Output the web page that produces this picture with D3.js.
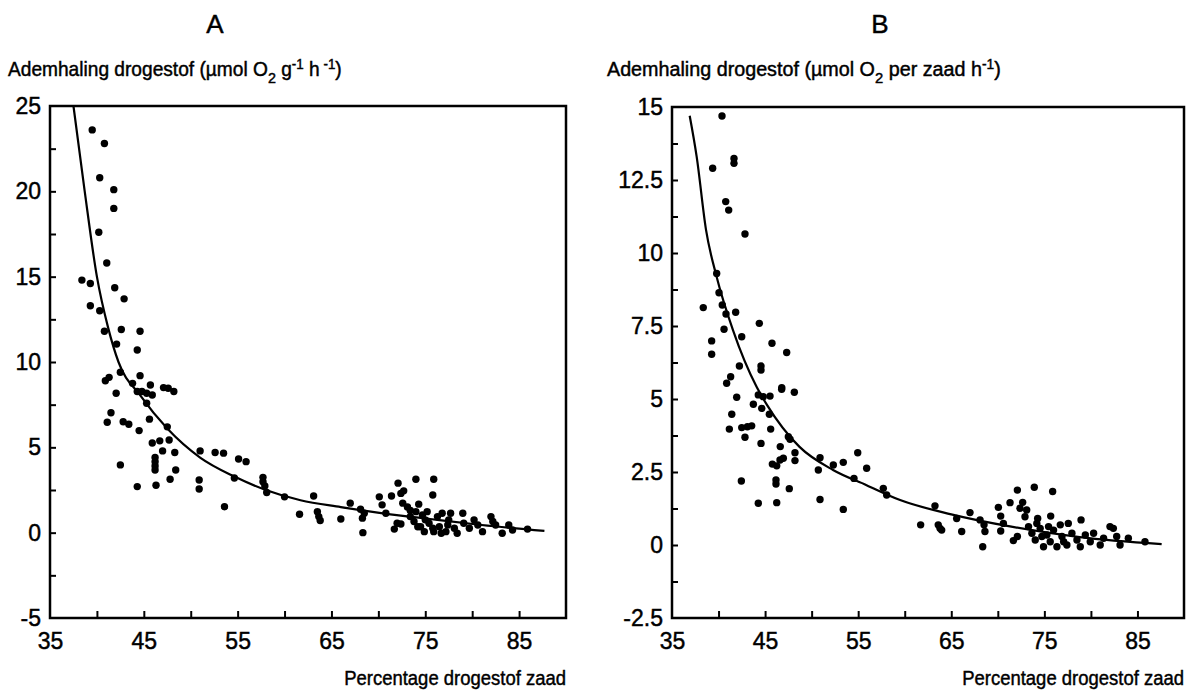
<!DOCTYPE html>
<html>
<head>
<meta charset="utf-8">
<script src="https://cdn.jsdelivr.net/npm/d3@7"></script>
<style>
  body { margin: 0; background: #fff; }
  svg { display: block; }
  text { font-family: "Liberation Sans", Arial, sans-serif; fill: #000; stroke: #000; stroke-width: 0.45px; }
</style>
</head>
<body>
<div id="chart"></div>
<script>
var width = 1204, height = 696;

// shared x axis
var xDomain = [35, 90];
var xTicks = [40, 45, 50, 55, 60, 65, 70, 75, 80, 85];
var xTickLabels = [35, 45, 55, 65, 75, 85];
var xTitle = "Percentage drogestof zaad";

// panel A: per gram
var aYDomain = [-5, 25];
var aYTicks = [-2.5, 0, 2.5, 5, 7.5, 10, 12.5, 15, 17.5, 20, 22.5];
var aYTickLabels = [-5, 0, 5, 10, 15, 20, 25];
var aCurve = [[37.5, 25], [38.7, 20], [40.0, 15], [41.2, 12], [42.3, 10], [44.6, 8.06], [47.5, 6.1],
  [51, 4.4], [54.6, 3.3], [58, 2.5], [61.7, 1.9], [66, 1.5], [70.3, 1.15], [75.5, 0.8], [81, 0.45], [87.7, 0.1]];
var aPoints = [
  [39.5, 23.6], [40.8, 22.8], [40.3, 20.8], [41.8, 20.1], [41.8, 19.0], [40.2, 17.6], [41.05, 15.8],
  [38.4, 14.8], [39.3, 14.6], [41.9, 14.35], [42.9, 13.7], [39.3, 13.3], [40.3, 13.0], [40.8, 11.8],
  [42.6, 11.9], [44.6, 11.8], [42.1, 11.05], [44.3, 10.7], [42.5, 9.4], [44.6, 9.2], [40.9, 8.9],
  [41.3, 9.1], [43.8, 8.75], [45.7, 8.65], [47.1, 8.5], [47.6, 8.46], [48.2, 8.27], [42.05, 8.17],
  [44.3, 8.27], [44.8, 8.27], [45.3, 8.17], [45.9, 8.07], [45.3, 7.58], [41.5, 7.03], [41.1, 6.47],
  [42.8, 6.5], [43.4, 6.35], [45.6, 6.65], [47.5, 6.2], [44.5, 5.98], [45.9, 5.25], [46.7, 5.38],
  [47.7, 5.43], [47.0, 4.79], [48.3, 4.7], [51.0, 4.79], [52.6, 4.7], [53.5, 4.66], [55.1, 4.32],
  [55.9, 4.16], [46.2, 4.4], [46.2, 4.16], [46.2, 3.91], [46.2, 3.67], [42.5, 3.97], [48.4, 3.67],
  [47.8, 3.13], [50.9, 3.09], [50.9, 2.56], [54.65, 3.2], [57.7, 3.24], [57.7, 2.99], [57.9, 2.74],
  [44.3, 2.7], [46.3, 2.78], [58.1, 2.35], [60.0, 2.1], [53.6, 1.52], [61.6, 1.08],
  [63.1, 2.15], [63.5, 1.23], [63.65, 0.94], [63.8, 0.71], [66.0, 0.8], [67.0, 1.73], [68.1, 1.37],
  [68.5, 1.14], [68.3, 0.85], [68.35, 0.0], [70.1, 2.1], [70.4, 1.63], [70.8, 1.14], [71.4, 2.15],
  [72.1, 2.9], [72.4, 2.3], [72.7, 2.45], [74.0, 3.13], [75.9, 3.13], [75.8, 2.21], [74.3, 1.67],
  [72.6, 1.73], [73.1, 1.5], [73.4, 1.3], [72.0, 0.55], [71.7, 0.21], [72.4, 0.51],
  [73.4, 0.94], [73.8, 0.65], [74.2, 0.35], [74.7, 1.04], [74.9, 0.06], [75.2, 1.23], [75.4, 0.55],
  [75.9, 0.06], [76.3, 0.94], [76.5, 0.35], [76.8, 1.14], [77.2, 0.06], [77.5, 0.75], [77.7, 1.14],
  [78.1, 0.26], [78.4, -0.03], [79.0, 1.14], [79.1, 0.55], [79.7, 0.26], [80.2, 0.75], [80.6, 0.45],
  [81.1, 0.06], [82.0, 0.94], [82.2, 0.65], [82.5, 0.45], [83.2, -0.03], [83.9, 0.45], [84.3, 0.16],
  [85.9, 0.21], [74.5, 0.35], [75.0, 0.75], [76.7, -0.03], [75.8, 0.26], [77.4, 0.45], [74.0, 1.23]
];

// panel B: per seed
var bYDomain = [-2.5, 15];
var bYTicks = [-1.25, 0, 1.25, 2.5, 3.75, 5, 6.25, 7.5, 8.75, 10, 11.25, 12.5, 13.75];
var bYTickLabels = [-2.5, 0, 2.5, 5, 7.5, 10, 12.5, 15];
var bCurve = [[36.9, 14.7], [37.65, 13.3], [38.65, 10.8], [39.8, 9.18], [41.55, 7.36], [44.1, 5.41], [45.2, 4.8],
  [48.7, 3.36], [52.3, 2.57], [55.9, 2.05], [59.5, 1.54], [65, 1.05], [71.6, 0.62], [78.8, 0.27], [87.6, 0.03]];
var bPoints = [
  [40.37, 14.69], [39.37, 12.9], [41.66, 13.24], [41.66, 13.07], [40.77, 11.76], [41.09, 11.47],
  [42.84, 10.65], [39.8, 9.3], [40.05, 8.64], [40.4, 8.22], [38.36, 8.13], [41.84, 7.97], [40.8, 7.91],
  [44.38, 7.59], [40.59, 7.39], [42.49, 7.13], [39.26, 6.99], [45.74, 6.91], [39.26, 6.53], [47.32, 6.59],
  [42.24, 6.13], [44.56, 6.13], [44.56, 5.99], [41.3, 5.76], [40.87, 5.54], [46.79, 5.39],
  [41.95, 5.06], [44.27, 5.14], [44.8, 5.08], [45.53, 5.1], [46.78, 5.33], [48.14, 5.23], [43.74, 4.82],
  [44.64, 4.68], [41.42, 4.48], [45.46, 4.48], [41.16, 3.97], [42.49, 4.02], [43.1, 4.05], [43.56, 4.08],
  [45.6, 3.97], [42.84, 3.69], [47.5, 3.71], [47.68, 3.62], [44.56, 3.48], [46.63, 3.37], [48.21, 3.16],
  [48.21, 2.89], [46.96, 2.97], [46.6, 2.91], [45.78, 2.77], [46.25, 2.71], [50.9, 2.99], [50.72, 2.57],
  [52.33, 2.74], [53.4, 2.83], [54.95, 3.16], [55.91, 2.63], [54.55, 2.28], [46.17, 2.23], [46.17, 2.09],
  [42.45, 2.19], [47.6, 1.93], [57.7, 1.94], [58.06, 1.71], [50.9, 1.56], [44.27, 1.43], [46.25, 1.45],
  [53.4, 1.22], [61.71, 0.69], [63.25, 1.34], [63.6, 0.69], [63.97, 0.51], [63.79, 0.57], [66.12, 0.46],
  [65.58, 0.91], [67.01, 1.11], [68.09, 0.86], [68.52, 0.69], [68.62, 0.46], [68.38, -0.06], [70.06, 1.29],
  [70.31, 0.99], [70.6, 0.74], [70.31, 0.48], [71.31, 1.45], [72.1, 1.88], [72.67, 1.46], [72.38, 1.26],
  [73.92, 1.98], [75.89, 1.83], [73.1, 1.2], [72.92, 0.97], [74.28, 0.91], [75.68, 0.99], [77.57, 0.74],
  [78.94, 0.86], [71.67, 0.15], [72.1, 0.29], [73.3, 0.63], [73.66, 0.4], [74.02, 0.17], [74.55, 0.57],
  [74.91, -0.06], [75.27, 0.34], [75.63, 0.11], [75.99, 0.51], [76.35, -0.06], [76.71, 0.69], [76.89, 0.29],
  [77.42, 0.0], [77.96, 0.4], [78.5, 0.17], [78.86, -0.06], [79.4, 0.34], [79.93, 0.11], [80.29, 0.4],
  [81.0, 0.0], [81.36, 0.23], [82.05, 0.63], [82.41, 0.57], [82.77, 0.29], [83.13, 0.0], [84.02, 0.23],
  [85.81, 0.11], [74.73, 0.29], [75.45, 0.63], [77.07, 0.11], [74.19, 0.74]
];

var panels = [
  { letter: "A", left: 50, right: 566, top: 106, bottom: 618, letterX: 215, labelX: 8, labelW: 334,
    yDomain: aYDomain, yTicks: aYTicks, yLabels: aYTickLabels, curve: aCurve, points: aPoints },
  { letter: "B", left: 672, right: 1184, top: 107, bottom: 618, letterX: 880, labelX: 607, labelW: 394,
    yDomain: bYDomain, yTicks: bYTicks, yLabels: bYTickLabels, curve: bCurve, points: bPoints }
];

var svg = d3.select("#chart").append("svg")
  .attr("width", width)
  .attr("height", height);

// squeeze a text horizontally to a given width, anchored at x0
function fitWidth(sel, x0, w) {
  var bw = sel.node().getBBox().width;
  var k = w / bw;
  sel.attr("transform", "translate(" + x0 + ",0) scale(" + k + ",1) translate(" + (-x0) + ",0)");
}

panels.forEach(function (p) {
  var x = d3.scaleLinear().domain(xDomain).range([p.left, p.right]);
  var y = d3.scaleLinear().domain(p.yDomain).range([p.bottom, p.top]);
  var g = svg.append("g");

  // panel letter
  g.append("text")
    .attr("x", p.letterX).attr("y", 33)
    .attr("text-anchor", "middle")
    .style("font-size", "26px")
    .text(p.letter);

  // y title with sub/superscripts
  var t = g.append("text")
    .attr("x", p.labelX).attr("y", 76)
    .style("font-size", "20px");
  t.append("tspan").text("Ademhaling drogestof (\u00b5mol O");
  t.append("tspan").attr("dy", 7).style("font-size", "15px").text("2");
  if (p.letter == "A") {
    t.append("tspan").attr("dy", -7).text(" g");
    t.append("tspan").attr("dy", -7).style("font-size", "14px").text("-1");
    t.append("tspan").attr("dy", 7).text(" h");
    t.append("tspan").attr("dy", -7).style("font-size", "14px").text(" -1");
    t.append("tspan").attr("dy", 7).text(")");
  } else {
    t.append("tspan").attr("dy", -7).text(" per zaad h");
    t.append("tspan").attr("dy", -7).style("font-size", "14px").text("-1");
    t.append("tspan").attr("dy", 7).text(")");
  }
  fitWidth(t, p.labelX, p.labelW);

  // inward tick marks
  g.append("g")
    .attr("transform", "translate(" + p.left + ",0)")
    .call(d3.axisLeft(y).tickValues(p.yTicks).tickSize(-6).tickFormat(""))
    .call(function (s) { s.select(".domain").remove(); })
    .selectAll("line").attr("stroke-width", 2);
  g.append("g")
    .attr("transform", "translate(0," + p.bottom + ")")
    .call(d3.axisBottom(x).tickValues(xTicks).tickSize(-7).tickFormat(""))
    .call(function (s) { s.select(".domain").remove(); })
    .selectAll("line").attr("stroke-width", 2);

  // tick labels
  g.append("g")
    .attr("transform", "translate(" + p.left + ",0)")
    .call(d3.axisLeft(y).tickValues(p.yLabels).tickSize(0).tickPadding(9).tickFormat(function (d) { return String(d); }))
    .call(function (s) { s.select(".domain").remove(); })
    .selectAll("text")
    .style("font-size", "23px");
  g.append("g")
    .attr("transform", "translate(0," + p.bottom + ")")
    .call(d3.axisBottom(x).tickValues(xTickLabels).tickSize(0).tickPadding(15).tickFormat(function (d) { return String(d); }))
    .call(function (s) { s.select(".domain").remove(); })
    .selectAll("text")
    .style("font-size", "23px");

  // x title
  var xt = g.append("text")
    .attr("x", p.right).attr("y", 685)
    .attr("text-anchor", "end")
    .style("font-size", "21px")
    .text(xTitle);
  fitWidth(xt, p.right, 222);

  // frame
  g.append("rect")
    .attr("x", p.left).attr("y", p.top)
    .attr("width", p.right - p.left).attr("height", p.bottom - p.top)
    .attr("fill", "none").attr("stroke", "#000").attr("stroke-width", 2.5);

  // fitted curve
  g.append("path")
    .datum(p.curve)
    .attr("fill", "none")
    .attr("stroke", "#000")
    .attr("stroke-width", 2.2)
    .attr("d", d3.line()
      .x(function (d) { return x(d[0]); })
      .y(function (d) { return y(d[1]); })
      .curve(d3.curveMonotoneX));

  // measured points
  g.selectAll("circle.pt").data(p.points).enter().append("circle")
    .attr("class", "pt")
    .attr("cx", function (d) { return x(d[0]); })
    .attr("cy", function (d) { return y(d[1]); })
    .attr("r", 3.7)
    .attr("fill", "#000");
});
</script>
</body>
</html>
